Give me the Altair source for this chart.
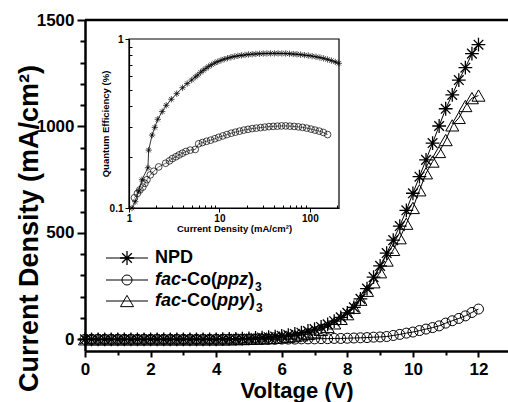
import altair as alt
import pandas as pd

# ---------------- data ----------------
# J-V sweep, 0-12 V in 0.2 V steps
volts = [0.0, 0.2, 0.4, 0.6, 0.8, 1.0, 1.2, 1.4, 1.6, 1.8,
         2.0, 2.2, 2.4, 2.6, 2.8, 3.0, 3.2, 3.4, 3.6, 3.8,
         4.0, 4.2, 4.4, 4.6, 4.8, 5.0, 5.2, 5.4, 5.6, 5.8,
         6.0, 6.2, 6.4, 6.6, 6.8, 7.0, 7.2, 7.4, 7.6, 7.8,
         8.0, 8.2, 8.4, 8.6, 8.8, 9.0, 9.2, 9.4, 9.6, 9.8,
         10.0, 10.2, 10.4, 10.6, 10.8, 11.0, 11.2, 11.4, 11.6, 11.8, 12.0]

# current density (mA/cm^2)
npd_j = [0, 0, 0, 0, 0, 0, 0, 0, 0, 0,
         0, 0, 0, 0, 0, 0, 0, 0, 0, 0,
         0, 1, 2, 2, 3, 4, 6, 8, 10, 13,
         16, 20, 25, 31, 39, 48, 58, 70, 85, 103,
         124, 150, 190, 238, 292, 345, 405, 466, 532, 606,
         686, 764, 843, 922, 1002, 1083, 1148, 1218, 1276, 1342, 1384]

ppz_j = [0, 0, 0, 0, 0, 0, 0, 0, 0, 0,
         0, 0, 0, 0, 0, 0, 0, 0, 0, 0,
         0, 0, 0, 0, 0, 0, 0, 0, 0, 0,
         1, 1, 1, 2, 2, 2, 3, 3, 4, 4,
         5, 6, 7, 8, 10, 11, 13, 18, 23, 29,
         34, 41, 48, 55, 63, 76, 87, 98, 110, 126, 142]

ppy_j = [0, 0, 0, 0, 0, 0, 0, 0, 0, 0,
         0, 0, 0, 0, 0, 0, 0, 0, 0, 0,
         0, 0, 0, 1, 1, 2, 3, 4, 5, 7,
         9, 12, 15, 19, 25, 33, 44, 58, 75, 96,
         118, 148, 186, 228, 268, 315, 370, 420, 475, 543,
         617, 700, 780, 835, 880, 936, 1005, 1040, 1096, 1133, 1145]

# inset: quantum efficiency (%) vs current density (mA/cm^2)
in_npd_j = [1.08, 1.17, 1.28, 1.39, 1.62, 1.65, 1.80, 1.93, 2.08, 2.33,
            2.58, 2.94, 3.37, 3.91, 4.40, 4.93, 5.40, 5.76, 6.20, 6.60,
            7.10, 7.60, 8.20, 8.90, 9.60, 10.4, 11.3, 12.3, 13.4, 14.6,
            16.0, 17.5, 19.2, 21.0, 23.0, 25.3, 27.8, 30.5, 33.5, 36.8,
            40.5, 44.5, 49.0, 54.0, 59.5, 65.5, 72.0, 79.0, 87.0, 96.0,
            106, 117, 129, 142, 157, 173, 191, 209]
in_npd_q = [0.100, 0.109, 0.126, 0.147, 0.173, 0.220, 0.270, 0.300, 0.335, 0.372,
            0.405, 0.440, 0.475, 0.515, 0.545, 0.572, 0.595, 0.612, 0.635, 0.652,
            0.670, 0.688, 0.705, 0.722, 0.735, 0.748, 0.760, 0.770, 0.780, 0.788,
            0.795, 0.800, 0.805, 0.810, 0.813, 0.816, 0.818, 0.820, 0.821, 0.822,
            0.822, 0.822, 0.821, 0.820, 0.818, 0.815, 0.812, 0.808, 0.803, 0.798,
            0.792, 0.785, 0.777, 0.768, 0.757, 0.745, 0.732, 0.718]

in_ppz_j = [1.15, 1.24, 1.32, 1.42, 1.50, 1.58, 1.72, 1.88, 2.13, 2.54,
            2.80, 3.02, 3.30, 3.58, 3.90, 4.26, 4.75, 5.40, 5.90, 6.50,
            7.20, 8.00, 8.90, 9.80, 10.9, 12.1, 13.5, 15.0, 16.7, 18.6,
            20.7, 23.0, 25.6, 28.5, 31.7, 35.3, 39.3, 43.7, 48.6, 54.1,
            60.2, 67.0, 74.6, 83.0, 92.4, 103, 114, 127, 141, 157]
in_ppz_q = [0.115, 0.122, 0.128, 0.133, 0.140, 0.147, 0.157, 0.165, 0.175, 0.184,
            0.190, 0.196, 0.201, 0.206, 0.211, 0.216, 0.220, 0.222, 0.240, 0.244,
            0.248, 0.252, 0.257, 0.262, 0.267, 0.272, 0.277, 0.281, 0.285, 0.289,
            0.292, 0.295, 0.297, 0.299, 0.301, 0.303, 0.304, 0.305, 0.306, 0.306,
            0.305, 0.304, 0.302, 0.300, 0.297, 0.293, 0.289, 0.285, 0.280, 0.272]

# legend entries: (text, italic?) pieces, then the subscript
legend_rows = [
    [("NPD", False)],
    [("fac", True), ("-Co(", False), ("ppz", True), (")", False)],
    [("fac", True), ("-Co(", False), ("ppy", True), (")", False)],
]
legend_subs = ["", "3", "3"]

x_ticks = [0, 2, 4, 6, 8, 10, 12]
y_ticks = [0, 500, 1000, 1500]

# ---------------- layout / style ----------------
W, H = 423, 331
FONT = "Liberation Sans"
AST = "M0,-1L0,1M-1,0L1,0M-0.7,-0.7L0.7,0.7M-0.7,0.7L0.7,-0.7"

# inset placement inside the main view (pixels)
IN_X = [44, 254]
IN_Y = [188, 19]
IN_XDOM = [1, 210]
IN_YDOM = [0.1, 1]

one = pd.DataFrame({"k": [0]})

x_main = alt.X(
    "V:Q",
    scale=alt.Scale(domain=[0, 12.9], nice=False, zero=False),
    axis=alt.Axis(
        values=list(range(0, 13)),
        labelExpr="indexof(%s, datum.value) >= 0 ? datum.label : ''" % str(x_ticks),
        format="d",
        tickSize={"condition": {"test": "datum.value % 2 === 0", "value": 6}, "value": 4},
        tickWidth=2, domainWidth=2.5, labelFontSize=17, labelFontWeight="bold",
        labelFlush=False, labelOverlap=False, labelPadding=4,
        title="Voltage (V)", titleFontSize=22, titleFontWeight="bold", titleY=29,
    ),
)
y_main = alt.Y(
    "J:Q",
    scale=alt.Scale(domain=[-55, 1500], nice=False, zero=False),
    axis=alt.Axis(
        values=list(range(0, 1501, 100)),
        labelExpr="indexof(%s, datum.value) >= 0 ? datum.label : ''" % str(y_ticks),
        format="d",
        tickSize={"condition": {"test": "datum.value % 500 === 0", "value": 8}, "value": 5},
        tickWidth=2, domainWidth=2.5, labelFontSize=17, labelFontWeight="bold",
        labelFlush=False, labelOverlap=False, labelPadding=3,
        title="Current Density (mA/cm²)", titleFontSize=27, titleFontWeight="bold",
        titleX=-48, titleY=208, titleBaseline="alphabetic",
    ),
)


def series_df(j):
    return pd.DataFrame({"V": volts, "J": j})


series = [
    (npd_j, AST, 190, 1.3),
    (ppz_j, "circle", 100, 1.0),
    (ppy_j, "triangle-up", 170, 1.0),
]

main_layers = []
for j, shp, sz, sw in series:
    base = alt.Chart(series_df(j)).encode(x=x_main, y=y_main)
    main_layers.append(base.mark_line(color="black", strokeWidth=1))
    main_layers.append(base.mark_point(shape=shp, size=sz, filled=False,
                                       color="black", strokeWidth=sw, opacity=1))

# top frame line of the plot area
main_layers.append(
    alt.Chart(one).mark_rule(color="black", strokeWidth=2.5)
    .encode(x=alt.value(0), x2=alt.value(W), y=alt.value(0))
)

# legend block
CW = {"f": 333, "a": 556, "c": 556, "-": 333, "C": 722, "o": 611, "(": 333,
      "p": 611, "z": 500, "y": 556, ")": 333, "N": 722, "P": 667, "D": 722}
LFS = 18
row_y = [238, 260, 281]
for (j, shp, sz, sw), parts, sub, ry in zip(series, legend_rows, legend_subs, row_y):
    main_layers.append(
        alt.Chart(one).mark_rule(color="black", strokeWidth=1)
        .encode(x=alt.value(21), x2=alt.value(63), y=alt.value(ry))
    )
    main_layers.append(
        alt.Chart(one).mark_point(shape=shp, size=sz, filled=False, color="black",
                                  strokeWidth=sw, opacity=1)
        .encode(x=alt.value(42), y=alt.value(ry))
    )
    tx = 70.0
    for txt, ital in parts:
        main_layers.append(
            alt.Chart(one).mark_text(text=txt, font=FONT, fontSize=LFS, fontWeight="bold",
                                     fontStyle="italic" if ital else "normal",
                                     align="left", baseline="middle", color="black")
            .encode(x=alt.value(tx), y=alt.value(ry))
        )
        tx += sum(CW.get(ch, 556) for ch in txt) * LFS / 1000.0
    if sub:
        main_layers.append(
            alt.Chart(one).mark_text(text=sub, font=FONT, fontSize=12, fontWeight="bold",
                                     align="left", baseline="middle", color="black")
            .encode(x=alt.value(tx + 1), y=alt.value(ry + 7))
        )

main = alt.layer(*main_layers)

# ---------------- inset ----------------
in_xscale = alt.Scale(type="log", domain=IN_XDOM, range=IN_X, nice=False)
in_yscale = alt.Scale(type="log", domain=IN_YDOM, range=IN_Y, nice=False)

x_in = alt.X(
    "J:Q", scale=in_xscale,
    axis=alt.Axis(orient="bottom", offset=IN_Y[0] - H, values=[1, 10, 100], format="~g",
                  tickSize=4, tickWidth=1, domainWidth=1.2, labelFontSize=10,
                  labelFontWeight="bold", labelFlush=False, labelOverlap=False, labelPadding=1,
                  title="Current Density (mA/cm²)", titleFontSize=9.5,
                  titleFontWeight="bold", titleY=15),
)
y_in = alt.Y(
    "Q:Q", scale=in_yscale,
    axis=alt.Axis(orient="left", offset=-IN_X[0], values=[0.1, 1], format="~g",
                  tickSize=4, tickWidth=1, domainWidth=1.2, labelFontSize=10,
                  labelFontWeight="bold", labelFlush=False, labelOverlap=False, labelPadding=2,
                  title="Quantum Efficiency (%)", titleFontSize=9.5,
                  titleFontWeight="bold", titleX=-19),
)

npd_in = alt.Chart(pd.DataFrame({"J": in_npd_j, "Q": in_npd_q})).encode(x=x_in, y=y_in)
ppz_in = alt.Chart(pd.DataFrame({"J": in_ppz_j, "Q": in_ppz_q})).encode(x=x_in, y=y_in)

inset = alt.layer(
    npd_in.mark_line(color="black", strokeWidth=0.8),
    npd_in.mark_point(shape=AST, size=40, filled=False, color="black",
                      strokeWidth=0.7, opacity=1),
    ppz_in.mark_line(color="black", strokeWidth=0.6),
    ppz_in.mark_point(shape="circle", size=45, filled=False, color="black",
                      strokeWidth=0.7, opacity=1),
)

# inset frame plus inward minor ticks
frame = pd.DataFrame({"x0": [IN_XDOM[0]], "x1": [IN_XDOM[1]],
                      "y0": [IN_YDOM[0]], "y1": [IN_YDOM[1]]})
minor_x = [2, 3, 4, 5, 6, 7, 8, 9, 20, 30, 40, 50, 60, 70, 80, 90, 200]
minor_y = [0.2, 0.3, 0.4, 0.5, 0.6, 0.7, 0.8, 0.9]
inset_frame = alt.Chart(frame).mark_rect(fillOpacity=0, stroke="black", strokeWidth=1.2).encode(
    x=alt.X("x0:Q", scale=in_xscale,
            axis=alt.Axis(orient="bottom", offset=IN_Y[0] - H - 3, values=minor_x,
                          labels=False, domain=False, tickSize=3, tickWidth=1, title=None)),
    x2="x1:Q",
    y=alt.Y("y0:Q", scale=in_yscale,
            axis=alt.Axis(orient="left", offset=-IN_X[0] - 3, values=minor_y,
                          labels=False, domain=False, tickSize=3, tickWidth=1, title=None)),
    y2="y1:Q",
)

chart = (
    alt.layer(main, inset, inset_frame)
    .resolve_scale(x="independent", y="independent")
    .properties(
        width=W, height=H,
        padding={"left": 85, "top": 20, "right": 0, "bottom": 51},
        autosize=alt.AutoSizeParams(type="none"),
        background="white",
    )
    .configure_view(stroke=None)
    .configure_axis(labelFont=FONT, titleFont=FONT, labelColor="black", titleColor="black",
                    domainColor="black", tickColor="black", grid=False)
)

chart.save("out.html", embed_options={"renderer": "svg", "actions": False})
